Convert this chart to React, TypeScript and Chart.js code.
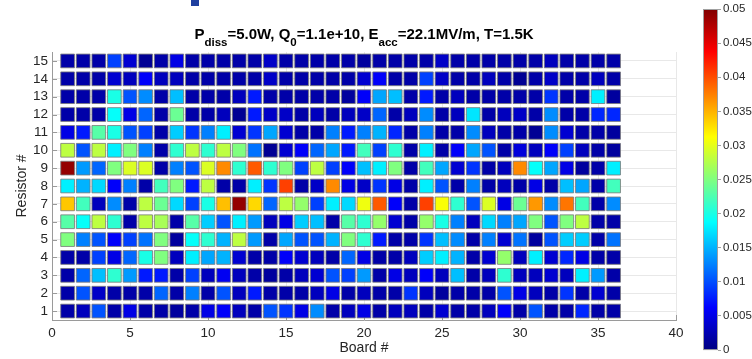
import React, { useEffect, useRef } from "react";
import { Chart, registerables } from "chart.js";
Chart.register(...registerables);

const boards = [1, 2, 3, 4, 5, 6, 7, 8, 9, 10, 11, 12, 13, 14, 15, 16, 17, 18, 19, 20, 21, 22, 23, 24, 25, 26, 27, 28, 29, 30, 31, 32, 33, 34, 35, 36];
const resistors = [1, 2, 3, 4, 5, 6, 7, 8, 9, 10, 11, 12, 13, 14, 15];
const xTicks = [0, 5, 10, 15, 20, 25, 30, 35, 40];
const cbTicks = [0, 0.005, 0.01, 0.015, 0.02, 0.025, 0.03, 0.035, 0.04, 0.045, 0.05];
const cMin = 0;
const cMax = 0.05;

const r1 = [0.002, 0.003, 0.0103, 0.002, 0.005, 0.002, 0.002, 0.0015, 0.002, 0.005, 0.006, 0.003, 0.002, 0.0103, 0.0088, 0.005, 0.0131, 0.002, 0.003, 0.005, 0.002, 0.003, 0.003, 0.002, 0.004, 0.002, 0.002, 0.003, 0.006, 0.002, 0.0103, 0.002, 0.002, 0.0081, 0.002, 0.002];
const r2 = [0.002, 0.0103, 0.0035, 0.002, 0.002, 0.002, 0.0112, 0.002, 0.0125, 0.002, 0.0103, 0.003, 0.0075, 0.002, 0.002, 0.002, 0.003, 0.005, 0.002, 0.003, 0.002, 0.002, 0.0088, 0.003, 0.0015, 0.002, 0.002, 0.002, 0.0103, 0.005, 0.003, 0.002, 0.0088, 0.002, 0.004, 0.002];
const r3 = [0.002, 0.0112, 0.0156, 0.021, 0.0138, 0.0075, 0.0075, 0.002, 0.0094, 0.003, 0.0056, 0.003, 0.002, 0.0015, 0.002, 0.003, 0.004, 0.0103, 0.0094, 0.0138, 0.002, 0.005, 0.003, 0.006, 0.003, 0.0156, 0.002, 0.003, 0.021, 0.003, 0.003, 0.004, 0.003, 0.018, 0.0138, 0.002];
const r4 = [0.002, 0.002, 0.0094, 0.005, 0.0112, 0.02, 0.025, 0.003, 0.018, 0.0144, 0.015, 0.004, 0.002, 0.002, 0.006, 0.004, 0.003, 0.002, 0.0112, 0.005, 0.002, 0.002, 0.003, 0.0163, 0.018, 0.015, 0.002, 0.004, 0.026, 0.003, 0.018, 0.004, 0.0081, 0.005, 0.002, 0.002];
const r5 = [0.025, 0.0125, 0.0103, 0.006, 0.0094, 0.0119, 0.025, 0.0015, 0.019, 0.021, 0.015, 0.028, 0.0138, 0.002, 0.0144, 0.0103, 0.0103, 0.015, 0.025, 0.021, 0.0075, 0.002, 0.002, 0.0088, 0.0156, 0.0131, 0.002, 0.0125, 0.004, 0.0119, 0.0015, 0.0103, 0.0163, 0.0163, 0.002, 0.0119];
const r6 = [0.023, 0.019, 0.028, 0.021, 0.002, 0.028, 0.027, 0.002, 0.023, 0.0163, 0.0103, 0.018, 0.0138, 0.003, 0.005, 0.0163, 0.0156, 0.002, 0.023, 0.021, 0.026, 0.004, 0.002, 0.026, 0.02, 0.0125, 0.003, 0.0169, 0.0125, 0.0144, 0.025, 0.0103, 0.025, 0.028, 0.002, 0.002];
const r7 = [0.034, 0.022, 0.003, 0.0131, 0.002, 0.028, 0.024, 0.0169, 0.0094, 0.02, 0.0344, 0.049, 0.0331, 0.0112, 0.028, 0.026, 0.0094, 0.018, 0.0169, 0.0305, 0.0394, 0.006, 0.002, 0.0406, 0.031, 0.021, 0.0103, 0.0295, 0.005, 0.024, 0.0363, 0.0131, 0.038, 0.022, 0.002, 0.0131];
const r8 = [0.018, 0.015, 0.0169, 0.006, 0.0125, 0.002, 0.022, 0.025, 0.0075, 0.028, 0.002, 0.002, 0.018, 0.0088, 0.0406, 0.002, 0.0035, 0.037, 0.005, 0.0035, 0.0088, 0.005, 0.002, 0.018, 0.0103, 0.002, 0.0125, 0.002, 0.003, 0.002, 0.005, 0.002, 0.0156, 0.0144, 0.002, 0.022];
const r9 = [0.049, 0.0138, 0.0112, 0.025, 0.0295, 0.0295, 0.002, 0.0125, 0.0103, 0.0295, 0.037, 0.021, 0.0394, 0.021, 0.025, 0.0094, 0.028, 0.0094, 0.006, 0.0156, 0.018, 0.025, 0.002, 0.022, 0.0144, 0.004, 0.0088, 0.002, 0.003, 0.037, 0.019, 0.0144, 0.005, 0.0015, 0.002, 0.018];
const r10 = [0.028, 0.0103, 0.028, 0.018, 0.025, 0.0125, 0.002, 0.021, 0.028, 0.021, 0.028, 0.025, 0.0119, 0.001, 0.004, 0.006, 0.0112, 0.0144, 0.0075, 0.022, 0.0094, 0.021, 0.002, 0.018, 0.002, 0.006, 0.0144, 0.0103, 0.002, 0.0045, 0.003, 0.006, 0.0094, 0.003, 0.002, 0.0015];
const r11 = [0.005, 0.0075, 0.023, 0.02, 0.0103, 0.0094, 0.002, 0.0163, 0.0088, 0.0125, 0.018, 0.004, 0.0088, 0.0144, 0.004, 0.002, 0.002, 0.0125, 0.0075, 0.0125, 0.015, 0.0081, 0.002, 0.0125, 0.002, 0.002, 0.0131, 0.003, 0.002, 0.002, 0.001, 0.0131, 0.004, 0.002, 0.002, 0.0015];
const r12 = [0.002, 0.002, 0.002, 0.019, 0.005, 0.0112, 0.002, 0.024, 0.002, 0.002, 0.003, 0.001, 0.0075, 0.0035, 0.0035, 0.002, 0.003, 0.002, 0.003, 0.0035, 0.0112, 0.002, 0.003, 0.0131, 0.002, 0.003, 0.0175, 0.002, 0.003, 0.0035, 0.002, 0.0131, 0.002, 0.002, 0.0081, 0.0081];
const r13 = [0.002, 0.002, 0.002, 0.02, 0.0103, 0.0131, 0.002, 0.0156, 0.002, 0.002, 0.002, 0.003, 0.0075, 0.002, 0.002, 0.002, 0.002, 0.002, 0.0015, 0.006, 0.0144, 0.0156, 0.002, 0.0075, 0.002, 0.003, 0.002, 0.002, 0.002, 0.002, 0.002, 0.0088, 0.002, 0.002, 0.018, 0.0015];
const r14 = [0.002, 0.002, 0.002, 0.004, 0.003, 0.006, 0.003, 0.003, 0.002, 0.002, 0.002, 0.002, 0.002, 0.0035, 0.002, 0.002, 0.002, 0.002, 0.002, 0.004, 0.006, 0.002, 0.002, 0.0094, 0.0035, 0.002, 0.002, 0.003, 0.002, 0.001, 0.002, 0.0035, 0.002, 0.002, 0.003, 0.002];
const r15 = [0.002, 0.002, 0.002, 0.0094, 0.004, 0.001, 0.002, 0.005, 0.002, 0.002, 0.002, 0.002, 0.002, 0.0035, 0.002, 0.002, 0.002, 0.002, 0.002, 0.0015, 0.002, 0.002, 0.002, 0.002, 0.0035, 0.002, 0.002, 0.002, 0.002, 0.002, 0.002, 0.003, 0.002, 0.002, 0.002, 0.002];
const rows = [r1, r2, r3, r4, r5, r6, r7, r8, r9, r10, r11, r12, r13, r14, r15];

const titleParts = [
  { t: "P", sub: false },
  { t: "diss", sub: true },
  { t: "=5.0W, Q", sub: false },
  { t: "0", sub: true },
  { t: "=1.1e+10, E", sub: false },
  { t: "acc", sub: true },
  { t: "=22.1MV/m, T=1.5K", sub: false },
];

const FONT = "'Liberation Sans', Arial, Helvetica, sans-serif";
const TXT = "#262626";
const AXIS = "#9a9a9a";

function jet(v: number, alpha = 1) {
  const t = Math.min(1, Math.max(0, (v - cMin) / (cMax - cMin)));
  const c = (x: number) => Math.round(255 * Math.min(1, Math.max(0, x)));
  const r = c(Math.min(4 * t - 1.5, -4 * t + 4.5));
  const g = c(Math.min(4 * t - 0.5, -4 * t + 3.5));
  const b = c(Math.min(4 * t + 0.5, -4 * t + 2.5));
  return `rgba(${r},${g},${b},${alpha})`;
}

const titlePlugin = {
  id: "subTitle",
  afterDraw(chart: any) {
    const { ctx, chartArea } = chart;
    const mainFont = `bold 15px ${FONT}`;
    const subFont = `bold 11.5px ${FONT}`;
    ctx.save();
    let total = 0;
    const widths = titleParts.map((p) => {
      ctx.font = p.sub ? subFont : mainFont;
      const w = ctx.measureText(p.t).width;
      total += w;
      return w;
    });
    let x = (chartArea.left + chartArea.right) / 2 - total / 2;
    ctx.fillStyle = "#000";
    ctx.textBaseline = "alphabetic";
    ctx.textAlign = "left";
    titleParts.forEach((p, i) => {
      ctx.font = p.sub ? subFont : mainFont;
      ctx.fillText(p.t, x, p.sub ? 45.5 : 38.5);
      x += widths[i];
    });
    ctx.restore();
  },
};

const inwardTicks = {
  id: "inwardTicks",
  beforeDatasetsDraw(chart: any) {
    const { ctx, chartArea, scales } = chart;
    ctx.save();
    ctx.strokeStyle = AXIS;
    ctx.lineWidth = 1;
    ctx.beginPath();
    xTicks.forEach((v) => {
      const px = Math.round(scales.x.getPixelForValue(v)) + 0.5;
      ctx.moveTo(px, chartArea.bottom);
      ctx.lineTo(px, chartArea.bottom - 5);
    });
    resistors.forEach((v) => {
      const py = Math.round(scales.y.getPixelForValue(v)) + 0.5;
      ctx.moveTo(chartArea.left, py);
      ctx.lineTo(chartArea.left + 5, py);
    });
    ctx.stroke();
    ctx.restore();
  },
};

const cbBox = {
  id: "cbBox",
  afterDatasetsDraw(chart: any) {
    const { ctx, chartArea } = chart;
    ctx.save();
    ctx.strokeStyle = "#a0a0a0";
    ctx.lineWidth = 1;
    ctx.strokeRect(chartArea.left + 0.5, chartArea.top + 0.5, chartArea.right - chartArea.left - 1, chartArea.bottom - chartArea.top - 1);
    ctx.restore();
  },
};

export default function App() {
  const mainRef = useRef<HTMLCanvasElement | null>(null);
  const cbRef = useRef<HTMLCanvasElement | null>(null);

  useEffect(() => {
    const points: any[] = [];
    resistors.forEach((r, i) => {
      boards.forEach((b, j) => {
        points.push({ x: b, y: r, v: rows[i][j] });
      });
    });

    const main = new Chart(mainRef.current as HTMLCanvasElement, {
      type: "scatter",
      data: {
        datasets: [
          {
            data: points,
            pointStyle: "rect",
            pointRadius: 9.7,
            pointHoverRadius: 9.7,
            borderWidth: 1,
            borderColor: "rgba(120,120,120,0.8)",
            backgroundColor: (c: any) => jet(c.raw ? c.raw.v : 0),
          } as any,
        ],
      },
      options: {
        responsive: false,
        animation: false,
        events: [],
        layout: { padding: { top: 52, right: 76, left: 0, bottom: 0 } },
        plugins: { legend: { display: false }, tooltip: { enabled: false }, title: { display: false } },
        scales: {
          x: {
            type: "linear",
            min: 0,
            max: 40,
            afterBuildTicks: (s: any) => {
              s.ticks = xTicks.map((v) => ({ value: v }));
            },
            afterFit: (s: any) => {
              s.height = 39;
            },
            ticks: { color: TXT, font: { family: FONT, size: 13.5 }, padding: 5, maxRotation: 0, autoSkip: false },
            grid: { color: "rgba(0,0,0,0.09)", drawTicks: false },
            border: { display: true, color: AXIS },
            title: { display: true, text: "Board #", color: TXT, font: { family: FONT, size: 14 }, padding: { top: 0, bottom: 2 } },
          },
          y: {
            type: "linear",
            min: 0.5,
            max: 15.5,
            afterBuildTicks: (s: any) => {
              s.ticks = resistors.map((v) => ({ value: v }));
            },
            afterFit: (s: any) => {
              s.width = 52;
            },
            ticks: { color: TXT, font: { family: FONT, size: 13.5 }, padding: 4, autoSkip: false },
            grid: { color: "rgba(0,0,0,0.09)", drawTicks: false },
            border: { display: true, color: AXIS },
            title: { display: true, text: "Resistor #", color: TXT, font: { family: FONT, size: 14 }, padding: { top: 13.5, bottom: 0 } },
          },
        },
      } as any,
      plugins: [titlePlugin, inwardTicks],
    });

    const cb = new Chart(cbRef.current as HTMLCanvasElement, {
      type: "bar",
      data: {
        labels: ["c"],
        datasets: [
          {
            data: [[cMin, cMax]] as any,
            barPercentage: 1,
            categoryPercentage: 1,
            borderWidth: 0,
            backgroundColor: (c: any) => {
              const area = c.chart.chartArea;
              if (!area) return "blue";
              const g = c.chart.ctx.createLinearGradient(0, area.bottom, 0, area.top);
              for (let i = 0; i <= 32; i++) {
                g.addColorStop(i / 32, jet(cMin + ((cMax - cMin) * i) / 32));
              }
              return g;
            },
          },
        ],
      },
      options: {
        responsive: false,
        animation: false,
        events: [],
        layout: { padding: { top: 9, bottom: 6, left: 3, right: 0 } },
        plugins: { legend: { display: false }, tooltip: { enabled: false } },
        scales: {
          x: { display: false },
          y: {
            position: "right",
            min: cMin,
            max: cMax,
            afterBuildTicks: (s: any) => {
              s.ticks = cbTicks.map((v) => ({ value: v }));
            },
            afterFit: (s: any) => {
              s.width = 34;
            },
            ticks: { color: TXT, font: { family: FONT, size: 11.5 }, padding: 2, autoSkip: false, callback: (v: any) => String(v) },
            grid: { drawOnChartArea: false, drawTicks: true, tickLength: 3, color: "#a0a0a0" },
            border: { display: false },
          },
        },
      } as any,
      plugins: [cbBox],
    });

    return () => {
      main.destroy();
      cb.destroy();
    };
  }, []);

  return (
    <div style={{ position: "fixed", left: 0, top: 0, width: 752, height: 359, background: "#fff", overflow: "hidden" }}>
      <div style={{ position: "absolute", left: 191, top: 0, width: 8, height: 6, background: "#1f3f9f" }} />
      <canvas ref={mainRef} width={752} height={359} style={{ position: "absolute", left: 0, top: 0, width: 752, height: 359 }} />
      <canvas ref={cbRef} width={52} height={359} style={{ position: "absolute", left: 700, top: 0, width: 52, height: 359 }} />
    </div>
  );
}
